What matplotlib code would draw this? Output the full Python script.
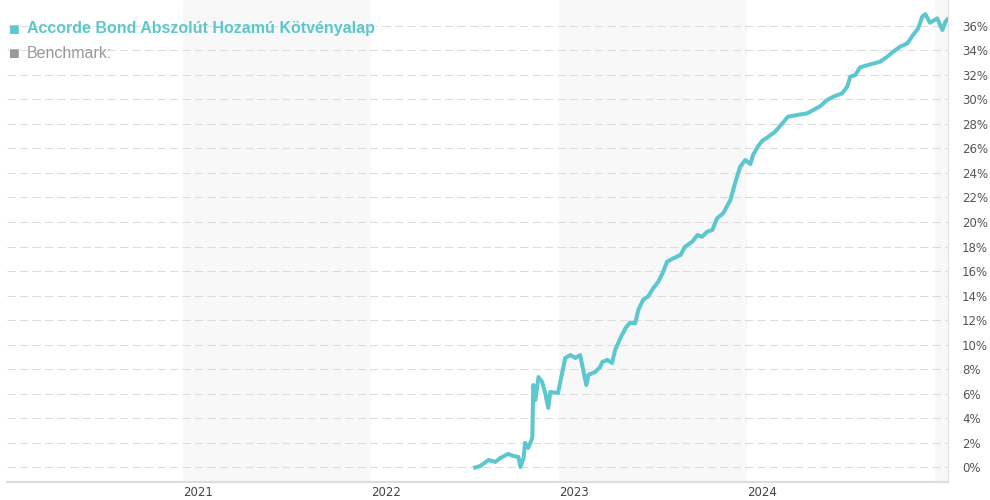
import matplotlib
matplotlib.use("Agg")
import matplotlib.pyplot as plt
import pandas as pd

## Data (cumulative return, %)
dates = [
    "2022-07-22", "2022-08-01", "2022-08-17", "2022-08-30", "2022-09-09",
    "2022-09-24", "2022-10-04", "2022-10-14", "2022-10-18", "2022-10-24",
    "2022-10-27", "2022-11-02", "2022-11-10", "2022-11-12", "2022-11-16",
    "2022-11-22", "2022-11-29", "2022-12-05", "2022-12-11", "2022-12-15",
    "2022-12-30", "2023-01-07", "2023-01-13", "2023-01-23", "2023-02-02",
    "2023-02-11", "2023-02-17", "2023-02-23", "2023-02-27", "2023-03-12",
    "2023-03-22", "2023-03-26", "2023-04-05", "2023-04-14", "2023-04-20",
    "2023-04-30", "2023-05-10", "2023-05-19", "2023-05-29", "2023-06-04",
    "2023-06-14", "2023-06-23", "2023-07-03", "2023-07-13", "2023-07-21",
    "2023-07-30", "2023-08-11", "2023-08-25", "2023-09-03", "2023-09-17",
    "2023-09-27", "2023-10-06", "2023-10-16", "2023-10-26", "2023-11-04",
    "2023-11-16", "2023-11-30", "2023-12-09", "2023-12-19", "2023-12-29",
    "2024-01-08", "2024-01-13", "2024-01-23", "2024-01-31", "2024-02-12",
    "2024-02-25", "2024-03-10", "2024-03-21", "2024-04-08", "2024-04-27",
    "2024-05-09", "2024-05-23", "2024-06-05", "2024-06-17", "2024-07-04",
    "2024-07-14", "2024-07-20", "2024-07-30", "2024-08-08", "2024-08-28",
    "2024-09-16", "2024-09-30", "2024-10-11", "2024-10-25", "2024-11-08",
    "2024-11-19", "2024-11-29", "2024-12-07", "2024-12-13", "2024-12-22",
    "2025-01-05", "2025-01-15", "2025-01-21", "2025-01-25",
]
fund = [
    0.00, 0.12, 0.61, 0.45, 0.77,
    1.10, 0.94, 0.86, 0.04, 0.77,
    2.00, 1.59, 2.40, 6.72, 5.50,
    7.37, 6.97, 6.07, 4.85, 6.15,
    6.07, 7.70, 8.92, 9.16, 8.92,
    9.16, 7.94, 6.72, 7.54, 7.78,
    8.19, 8.59, 8.76, 8.51, 9.57,
    10.52, 11.34, 11.80, 11.75, 12.83,
    13.70, 13.92, 14.60, 15.14, 15.82,
    16.77, 17.04, 17.31, 17.99, 18.40,
    18.94, 18.80, 19.21, 19.35, 20.30,
    20.71, 21.79, 23.15, 24.50, 25.05,
    24.72, 25.46, 26.19, 26.62, 26.95,
    27.36, 28.04, 28.58, 28.72, 28.85,
    29.12, 29.45, 29.94, 30.21, 30.48,
    31.02, 31.84, 31.98, 32.60, 32.85,
    33.06, 33.47, 33.87, 34.28, 34.56,
    35.23, 35.78, 36.73, 36.94, 36.24,
    36.59, 35.64, 36.32, 36.51,
]
fund_name = "Accorde Bond Abszolút Hozamú Kötvényalap"
bench_name = "Benchmark:"
years = [2021, 2022, 2023, 2024]
y_ticks = list(range(0, 37, 2))

TEAL = "#5cc7ce"

x = pd.to_datetime(dates)

fig = plt.figure(figsize=(9.9, 5), dpi=100)
ax = fig.add_axes([7 / 990, 18.3 / 500, 941 / 990, 481.7 / 500])

# alternating year shading
for y0, y1 in [("2021-01-01", "2022-01-01"), ("2023-01-01", "2024-01-01"),
               ("2025-01-01", "2025-03-01")]:
    ax.axvspan(pd.Timestamp(y0), pd.Timestamp(y1), color="#f8f8f8", zorder=0, lw=0)

# dashed grid
for t in y_ticks:
    ax.axhline(t, color="#dcdcdc", lw=0.75, linestyle=(0, (8, 4)), zorder=1)

ax.plot(x, fund, color=TEAL, lw=2.9, solid_joinstyle="round", zorder=3)

ax.set_xlim(pd.Timestamp("2020-01-24"), pd.Timestamp("2025-01-26"))
ax.set_ylim(-1.16, 38.09)

for s in ["top", "left"]:
    ax.spines[s].set_visible(False)
ax.spines["bottom"].set_color("#dddddd")
ax.spines["bottom"].set_linewidth(1.6)
ax.spines["right"].set_color("#e2e2e2")
ax.spines["right"].set_linewidth(0.8)

ax.yaxis.tick_right()
ax.set_yticks(y_ticks)
ax.set_yticklabels([f"{t}%" for t in y_ticks])
ax.tick_params(axis="y", length=0, pad=10, labelsize=8.5, labelcolor="#555555")

ax.set_xticks([pd.Timestamp(f"{y}-01-01") for y in years])
ax.set_xticklabels([str(y) for y in years])
ax.tick_params(axis="x", length=0, pad=3, labelsize=8.5, labelcolor="#444444")
for lab in ax.get_xticklabels():
    lab.set_horizontalalignment("left")

# legend
fam = ["Liberation Sans", "DejaVu Sans"]
fig.text(9 / 990, 1 - 30 / 500, "■", color=TEAL, fontsize=13, family=fam, va="center")
fig.text(27 / 990, 1 - 29 / 500, fund_name, color=TEAL, fontsize=11.5,
         fontweight="bold", family=fam, va="center")
fig.text(9 / 990, 1 - 54 / 500, "■", color="#999999", fontsize=13, family=fam, va="center")
fig.text(27 / 990, 1 - 53 / 500, bench_name, color="#999999", fontsize=11.5,
         family=fam, va="center")

fig.savefig("out.png", dpi=100)
